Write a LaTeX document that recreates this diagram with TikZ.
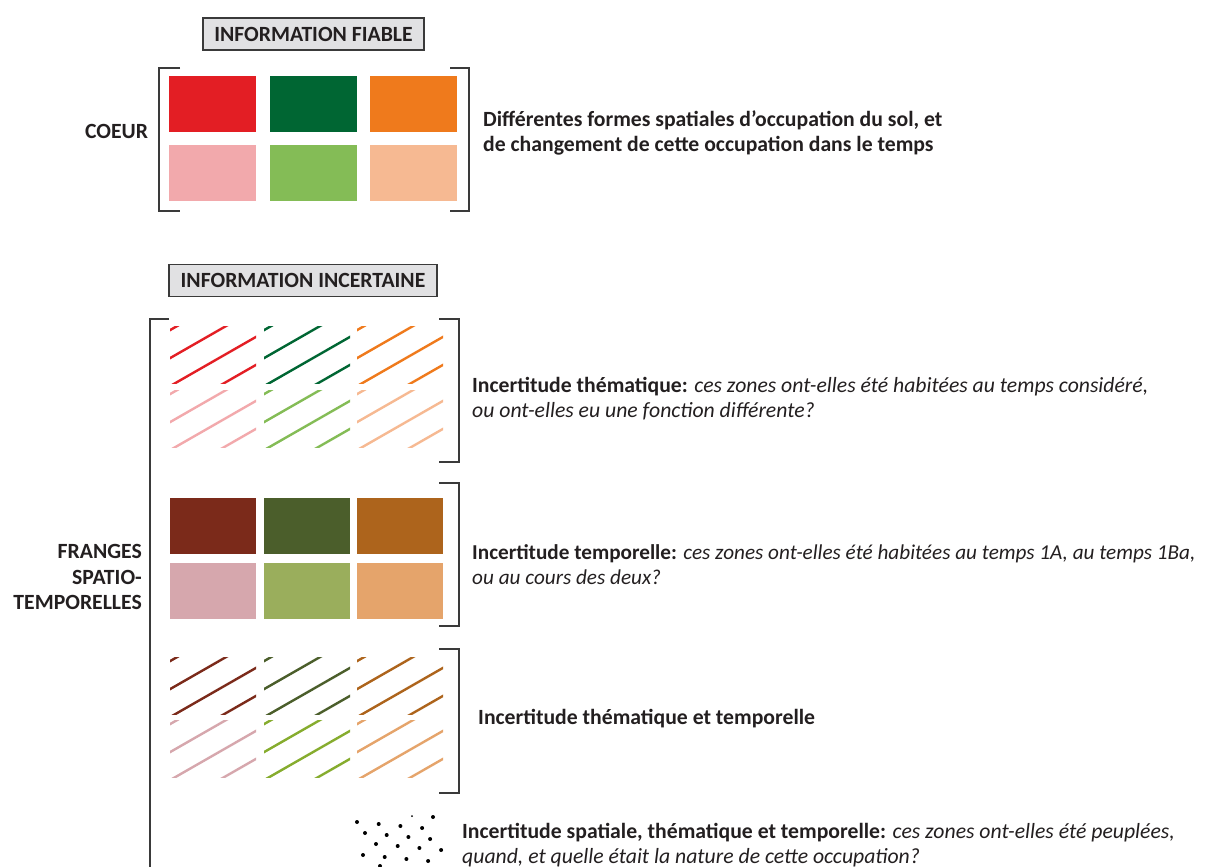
\documentclass[tikz,border=0pt]{standalone}
\usepackage{fontspec}
\setmainfont{Carlito}
\usetikzlibrary{positioning}

\definecolor{textgray}{HTML}{231F20}
\definecolor{bracketgray}{HTML}{3A3A3A}
\definecolor{boxgray}{HTML}{E1E1E3}
% coeur
\definecolor{coeurA}{HTML}{E31E24}
\definecolor{coeurB}{HTML}{006633}
\definecolor{coeurC}{HTML}{EF7A1C}
\definecolor{coeurD}{HTML}{F2A9AC}
\definecolor{coeurE}{HTML}{84BC56}
\definecolor{coeurF}{HTML}{F6B992}
% temps
\definecolor{tempsA}{HTML}{7B2A1A}
\definecolor{tempsB}{HTML}{4B5E2B}
\definecolor{tempsC}{HTML}{AD641C}
\definecolor{tempsD}{HTML}{D6A7AD}
\definecolor{tempsE}{HTML}{9AAE5C}
\definecolor{tempsF}{HTML}{E5A46B}
\definecolor{tempsG}{HTML}{86AC2E}

\begin{document}
\begin{tikzpicture}[x=1pt, y=-1pt,
    every node/.style={font=\fontsize{21.7}{25}\selectfont, text=textgray, inner sep=0pt},
    bracket/.style={draw=bracketgray, line width=1.8pt},
    titlebox/.style={draw=bracketgray, fill=boxgray, line width=1.5pt, minimum height=32pt,
      font=\fontsize{21.7}{25}\selectfont\bfseries},
    hatch/.style={line width=2.4pt}]
  \useasboundingbox (0,0) rectangle (1218,867);

  % information fiable
  \node[titlebox, minimum width=221pt] (fiable) at (313.5,34) {INFORMATION FIABLE};
  \draw[bracket] (180,68) -- (159,68) -- (159,211) -- (180,211);
  \draw[bracket] (450,68) -- (469,68) -- (469,211) -- (450,211);
  \foreach \x/\y/\c in {169/76/coeurA, 270/76/coeurB, 370/76/coeurC,
                        169/145/coeurD, 270/145/coeurE, 370/145/coeurF}
    \fill[\c] (\x,\y) rectangle ++(87,56);
  \node[font=\fontsize{21.7}{25}\selectfont\bfseries] (coeur) at (116.5,131) {COEUR};
  \node[anchor=west, align=left, font=\fontsize{21.7}{25}\selectfont\bfseries] (formes) at (483,133)
    {Différentes formes spatiales d’occupation du sol, et\\de changement de cette occupation dans le temps};

  % information incertaine
  \node[titlebox, minimum width=268pt] (incertaine) at (303,280.5) {INFORMATION INCERTAINE};
  \draw[bracket] (169,319) -- (150,319) -- (150,875);
  \node[anchor=east, align=right, font=\fontsize{21.7}{25.5}\selectfont\bfseries] (franges) at (142,577)
    {FRANGES\\SPATIO-\\TEMPORELLES};

  % thematique
  \draw[bracket] (439,319) -- (459,319) -- (459,462) -- (439,462);
  \foreach \x/\y/\c in {170/326/coeurA, 264/326/coeurB, 357/326/coeurC,
                        170/390/coeurD, 264/390/coeurE, 357/390/coeurF}{
    \begin{scope}
      \clip (\x,\y) rectangle ++(86,57);
      \foreach \k in {0,...,5}
        \draw[hatch, \c] (\x-5,\y+7+\k*28-28) -- ++(110,-63);
    \end{scope}
  }
  \node[anchor=west, align=left] (thematique) at (472,399)
    {\textbf{Incertitude thématique:} \textit{ces zones ont-elles été habitées au temps considéré,}\\
     \textit{ou ont-elles eu une fonction différente?}};

  % temporelle
  \draw[bracket] (439,483) -- (459,483) -- (459,626) -- (439,626);
  \foreach \x/\y/\c in {170/498/tempsA, 264/498/tempsB, 357/498/tempsC,
                        170/563/tempsD, 264/563/tempsE, 357/563/tempsF}
    \fill[\c] (\x,\y) rectangle ++(86,56);
  \node[anchor=west, align=left, font=\fontsize{21.2}{25}\selectfont] (temporelle) at (472,565)
    {\textbf{Incertitude temporelle:} \textit{ces zones ont-elles été habitées au temps 1A, au temps 1Ba,}\\
     \textit{ou au cours des deux?}};

  % thematique et temporelle
  \draw[bracket] (439,649) -- (459,649) -- (459,793) -- (439,793);
  \foreach \x/\y/\c in {170/657/tempsA, 264/657/tempsB, 357/657/tempsC,
                        170/720/tempsD, 264/720/tempsG, 357/720/tempsF}{
    \begin{scope}
      \clip (\x,\y) rectangle ++(86,57);
      \foreach \k in {0,...,5}
        \draw[hatch, \c] (\x-5,\y+7+\k*28-28) -- ++(110,-63);
    \end{scope}
  }
  \node[anchor=west, font=\fontsize{21.7}{25}\selectfont\bfseries] (themtemp) at (478,719)
    {Incertitude thématique et temporelle};

  % spatiale
  \foreach \j/\s in {0/0, 1/8, 2/19, 3/6}
    \foreach \i in {0,...,3}
      \fill[black] (357+\s+21.7*\i, 822+11*\j+2*\i) circle (2pt);
  \fill[black] (412,816) circle (1pt);
  \fill[black] (433,817) circle (2pt);
  \fill[black] (380,866) circle (2pt);
  \node[anchor=west, align=left] (spatiale) at (462,845)
    {\textbf{Incertitude spatiale, thématique et temporelle:} \textit{ces zones ont-elles été peuplées,}\\
     \textit{quand, et quelle était la nature de cette occupation?}};
\end{tikzpicture}
\end{document}
